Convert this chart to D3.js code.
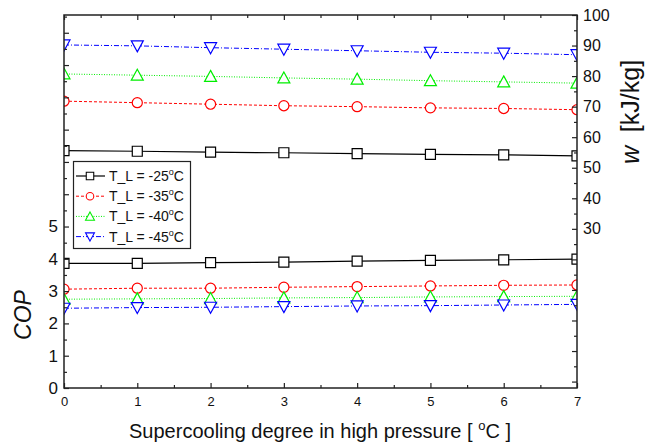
<!DOCTYPE html>
<html>
<head>
<meta charset="utf-8">
<script src="https://cdn.jsdelivr.net/npm/d3@7"></script>
<style>
  body { margin: 0; background: #fff; }
  svg { display: block; font-family: "Liberation Sans", Arial, sans-serif; }
</style>
</head>
<body>
<svg id="canvas"></svg>
<script>
let xValues = [0, 1, 2, 3, 4, 5, 6, 7];
let seriesNames = ['-25', '-35', '-40', '-45'];

// COP (left axis)
let cop25 = [3.86, 3.86, 3.88, 3.90, 3.93, 3.95, 3.97, 3.99];
let cop35 = [3.06, 3.09, 3.09, 3.12, 3.14, 3.16, 3.18, 3.19];
let cop40 = [2.75, 2.76, 2.77, 2.79, 2.80, 2.82, 2.83, 2.84];
let cop45 = [2.47, 2.49, 2.50, 2.52, 2.54, 2.55, 2.57, 2.59];

// w [kJ/kg] (right axis)
let w25 = [55.6, 55.4, 55.1, 54.9, 54.6, 54.4, 54.2, 53.9];
let w35 = [71.8, 71.3, 70.8, 70.3, 70.0, 69.6, 69.4, 69.0];
let w40 = [80.7, 80.3, 79.9, 79.4, 79.0, 78.5, 78.1, 77.7];
let w45 = [90.2, 89.9, 89.3, 88.8, 88.3, 87.8, 87.5, 87.0];

let leftLabels = [0, 1, 2, 3, 4, 5];
let rightLabels = [30, 40, 50, 60, 70, 80, 90, 100];

let width = 656, height = 443;
let padLeft = 64, padRight = 577, padTop = 15, padBottom = 388;

let canvas = d3.select('#canvas').attr('width', width).attr('height', height);

let xScale = d3.scaleLinear().domain([0, 7]).range([padLeft, padRight]);
let yLeft = d3.scaleLinear().domain([0, 11.55]).range([padBottom, padTop]);
let yRight = d3.scaleLinear().domain([-22.1, 100]).range([padBottom, padTop]);

let styles = [
  { color: '#000', dash: null, shape: 'square', width: 1.2 },
  { color: '#ff0000', dash: '3,2', shape: 'circle', width: 1 },
  { color: '#00ee00', dash: '1,1.5', shape: 'up', width: 1 },
  { color: '#0000ff', dash: '5,2,1,2', shape: 'down', width: 1 }
];

let copSeries = [cop25, cop35, cop40, cop45];
let wSeries = [w25, w35, w40, w45];

let markerPath = (shape) => {
  if (shape === 'square') return 'M-5,-5H5V5H-5Z';
  if (shape === 'circle') return d3.symbol(d3.symbolCircle, 80)();
  if (shape === 'up') return 'M0,-6L6,5H-6Z';
  return 'M0,6L6,-5H-6Z';
};

canvas.append('clipPath').attr('id', 'plot-clip')
  .append('rect')
  .attr('x', padLeft).attr('y', padTop)
  .attr('width', padRight - padLeft).attr('height', padBottom - padTop);

let plot = canvas.append('g').attr('clip-path', 'url(#plot-clip)');

let drawSeries = (data, yScale) => {
  data.forEach((vals, i) => {
    let st = styles[i];
    let line = d3.line().x((d, j) => xScale(xValues[j])).y(d => yScale(d));
    plot.append('path')
      .datum(vals)
      .attr('d', line)
      .attr('fill', 'none')
      .attr('stroke', st.color)
      .attr('stroke-width', st.width)
      .attr('stroke-dasharray', st.dash);
    plot.selectAll(null)
      .data(vals)
      .enter()
      .append('path')
      .attr('d', markerPath(st.shape))
      .attr('transform', (d, j) => `translate(${xScale(xValues[j])},${yScale(d)})`)
      .attr('fill', '#fff')
      .attr('stroke', st.color)
      .attr('stroke-width', 1.2);
  });
};

drawSeries(wSeries, yRight);
drawSeries(copSeries, yLeft);

// axes
let axisColor = '#222';
let majorLen = 5, minorLen = 3;

let styleAxis = (g) => {
  g.select('.domain').remove();
  g.selectAll('line').attr('stroke', axisColor).attr('stroke-width', 1.2);
  g.selectAll('text').attr('fill', '#111');
};

// bottom axis
let xMajor = d3.range(0, 7.01, 1);
let xMinor = d3.range(0.5, 7, 1);
canvas.append('g')
  .attr('transform', `translate(0,${padBottom})`)
  .call(d3.axisBottom(xScale).tickValues(xMajor).tickFormat(d3.format('d')).tickSizeInner(-majorLen).tickSizeOuter(0).tickPadding(9))
  .call(styleAxis)
  .call(g => g.selectAll('text').attr('font-size', 13));
canvas.append('g')
  .attr('transform', `translate(0,${padBottom})`)
  .call(d3.axisBottom(xScale).tickValues(xMinor).tickFormat('').tickSizeInner(-minorLen).tickSizeOuter(0))
  .call(styleAxis);
// top axis
canvas.append('g')
  .attr('transform', `translate(0,${padTop})`)
  .call(d3.axisTop(xScale).tickValues(xMajor).tickFormat('').tickSizeInner(-majorLen).tickSizeOuter(0))
  .call(styleAxis);
canvas.append('g')
  .attr('transform', `translate(0,${padTop})`)
  .call(d3.axisTop(xScale).tickValues(xMinor).tickFormat('').tickSizeInner(-minorLen).tickSizeOuter(0))
  .call(styleAxis);

// left axis
let lMajor = d3.range(0, 11.6, 1);
let lMinor = d3.range(0.5, 11.6, 1);
canvas.append('g')
  .attr('transform', `translate(${padLeft},0)`)
  .call(d3.axisLeft(yLeft).tickValues(lMajor).tickFormat(d => leftLabels.includes(d) ? d : '').tickSizeInner(-majorLen).tickSizeOuter(0).tickPadding(6))
  .call(styleAxis)
  .call(g => g.selectAll('text').attr('font-size', 17));
canvas.append('g')
  .attr('transform', `translate(${padLeft},0)`)
  .call(d3.axisLeft(yLeft).tickValues(lMinor).tickFormat('').tickSizeInner(-minorLen).tickSizeOuter(0))
  .call(styleAxis);

// right axis
let rMajor = d3.range(-20, 100.1, 10);
let rMinor = d3.range(-15, 100, 10);
canvas.append('g')
  .attr('transform', `translate(${padRight},0)`)
  .call(d3.axisRight(yRight).tickValues(rMajor).tickFormat(d => rightLabels.includes(d) ? d : '').tickSizeInner(-majorLen).tickSizeOuter(0).tickPadding(6))
  .call(styleAxis)
  .call(g => g.selectAll('text').attr('font-size', 16));
canvas.append('g')
  .attr('transform', `translate(${padRight},0)`)
  .call(d3.axisRight(yRight).tickValues(rMinor).tickFormat('').tickSizeInner(-minorLen).tickSizeOuter(0))
  .call(styleAxis);

// frame
canvas.append('rect')
  .attr('x', padLeft).attr('y', padTop)
  .attr('width', padRight - padLeft).attr('height', padBottom - padTop)
  .attr('fill', 'none').attr('stroke', axisColor).attr('stroke-width', 1.5);

// axis titles
let xTitle = canvas.append('text')
  .attr('x', 320).attr('y', 438)
  .attr('text-anchor', 'middle').attr('font-size', 20).attr('fill', '#111');
xTitle.append('tspan').text('Supercooling degree in high pressure [ ');
xTitle.append('tspan').attr('font-size', 13).attr('dy', -8).text('o');
xTitle.append('tspan').attr('dy', 8).text('C ]');

canvas.append('text')
  .attr('transform', 'translate(31,315) rotate(-90)')
  .attr('text-anchor', 'middle')
  .attr('font-size', 23).attr('font-style', 'italic').attr('fill', '#111')
  .text('COP');

let wTitle = canvas.append('text')
  .attr('transform', 'translate(639,112) rotate(-90)')
  .attr('text-anchor', 'middle')
  .attr('font-size', 25).attr('fill', '#111');
wTitle.append('tspan').attr('font-style', 'italic').text('w');
wTitle.append('tspan').attr('xml:space', 'preserve').text('\u00a0 [kJ/kg]');

// legend
let legend = canvas.append('g');
legend.append('rect')
  .attr('x', 73.5).attr('y', 161.5).attr('width', 117).attr('height', 87)
  .attr('fill', '#fff').attr('stroke', axisColor).attr('stroke-width', 1.2);

seriesNames.forEach((name, i) => {
  let st = styles[i];
  let y = 176 + i * 20.2;
  legend.append('line')
    .attr('x1', 76).attr('x2', 105).attr('y1', y).attr('y2', y)
    .attr('stroke', st.color).attr('stroke-width', st.width)
    .attr('stroke-dasharray', st.dash);
  legend.append('path')
    .attr('d', markerPath(st.shape))
    .attr('transform', `translate(90,${y}) scale(0.75)`)
    .attr('fill', '#fff').attr('stroke', st.color).attr('stroke-width', 1.4);
  let t = legend.append('text')
    .attr('x', 109).attr('y', y + 5)
    .attr('font-size', 14).attr('fill', '#111');
  t.append('tspan').text(`T_L = ${name}`);
  t.append('tspan').attr('font-size', 9).attr('dy', -6).text('o');
  t.append('tspan').attr('dy', 6).text('C');
});
</script>
</body>
</html>
